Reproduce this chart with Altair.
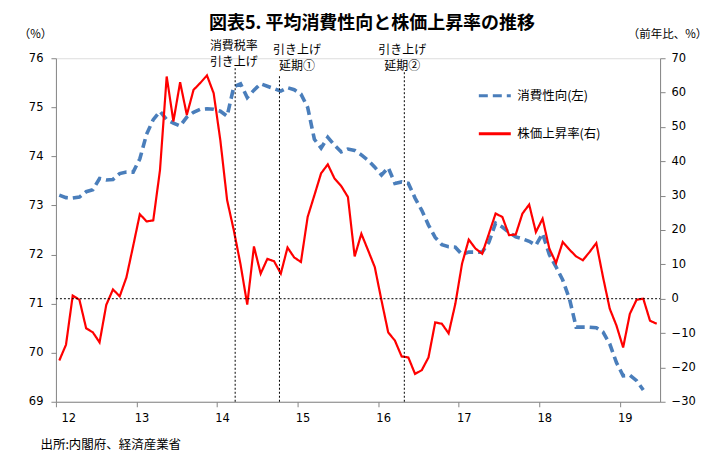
import json
import altair as alt
import numpy as np
import pandas as pd

# ---- data ----
year_labels = ["12", "13", "14", "15", "16", "17", "18", "19"]  # Jan of each year
series_names = ["消費性向(左)", "株価上昇率(右)"]

# average propensity to consume (%), monthly from 2012-01 (left axis)
propensity = [
    73.21, 73.16, 73.15, 73.17, 73.28, 73.32, 73.55, 73.52, 73.53, 73.65, 73.68, 73.68,
    73.95, 74.45, 74.75, 74.92, 74.75, 74.68, 74.62, 74.80, 74.90, 74.96, 74.97, 74.96,
    74.92, 74.82, 75.42, 75.48, 75.20, 75.35, 75.48, 75.43, 75.38, 75.33, 75.40, 75.36,
    75.27, 75.00, 74.35, 74.17, 74.39, 74.23, 74.09, 74.15, 74.12, 74.03, 73.92, 73.78,
    73.62, 73.77, 73.45, 73.48, 73.45, 73.15, 72.90, 72.60, 72.35, 72.20, 72.16, 72.15,
    72.00, 72.05, 72.05, 72.05, 72.25, 72.64, 72.56, 72.45, 72.36, 72.32, 72.27, 72.19,
    72.43, 72.00, 71.75, 71.48, 71.10, 70.52, 70.52, 70.52, 70.51, 70.42, 70.18, 69.80,
    69.53, 69.54, 69.43, 69.24,
]

# stock price change (% y/y), monthly from 2012-01 (right axis)
stock = [
    -18.0, -13.4, 0.9, -0.3, -8.6, -9.8, -12.7, -1.8, 2.7, 0.7, 6.2, 15.3,
    24.6, 22.5, 22.8, 37.4, 64.7, 51.6, 63.0, 53.5, 60.8, 62.8, 65.0, 59.8,
    46.0, 28.7, 19.9, 10.0, -1.7, 15.2, 7.3, 11.6, 10.9, 7.3, 14.9, 12.0,
    10.7, 23.8, 30.1, 36.5, 39.1, 35.0, 32.8, 29.6, 12.3, 18.9, 14.1, 9.2,
    -0.5, -9.8, -12.2, -16.8, -17.1, -21.9, -20.8, -17.1, -6.9, -7.3, -10.1, -1.5,
    10.2, 17.2, 14.6, 13.1, 18.9, 24.8, 23.8, 18.5, 18.7, 24.8, 27.4, 19.4,
    23.3, 14.6, 10.4, 16.5, 14.3, 12.3, 11.2, 13.6, 16.2, 6.3, -2.9, -7.8,
    -14.2, -4.4, -0.3, 0.0, -6.4, -7.3,
]

# events (month index from 2012-01) and top of their dotted lines (left-axis units)
event_pos = [26.7, 33.3, 51.9]
event_top = [75.82, 75.65, 75.72]

# annotation texts
ann_text = ["消費税率", "引き上げ", "引き上げ", "延期①", "引き上げ", "延期②"]
ann_x = [26.5, 26.5, 35.9, 35.9, 51.6, 51.6]
ann_y = [76.245, 75.92, 76.16, 75.84, 76.16, 75.84]

n_months = 90

# ---- tables ----
df_b = pd.DataFrame({"m": np.arange(len(propensity)) + 0.5, "v": propensity,
                     "series": series_names[0]})
df_r = pd.DataFrame({"m": np.arange(len(stock)) + 0.5, "v": stock,
                     "series": series_names[1]})
df_ev = pd.DataFrame({"m": event_pos, "y0": [69] * len(event_pos), "y1": event_top})
df_ann = pd.DataFrame({"m": ann_x, "y": ann_y, "t": ann_text})

FONT_JP = "Noto Sans CJK JP"
FONT_NUM = "DejaVu Sans"
AXIS_GREY = "#868686"

x_enc = alt.X(
    "m:Q",
    scale=alt.Scale(domain=[0, n_months], nice=False, zero=False),
    axis=alt.Axis(
        values=[12 * i for i in range(len(year_labels))],
        labelExpr=f"{json.dumps(year_labels)}[round(datum.value/12)]",
        grid=False, domainColor=AXIS_GREY, tickColor=AXIS_GREY, tickSize=5,
        labelFont=FONT_NUM, labelFontSize=11.5, labelColor="#000000",
        labelOffset=5, labelPadding=6,
        title="出所:内閣府、経済産業省", titleFont=FONT_JP, titleFontSize=12.5,
        titleFontWeight="normal", titleColor="#000000",
        titleAnchor="start", titleAlign="left", titleBaseline="middle",
        titleX=-16, titleY=43,
    ),
)
x_plain = alt.X("m:Q", scale=alt.Scale(domain=[0, n_months], nice=False, zero=False))

left_domain = [69, 76]
right_domain = [-30, 70]

color_scale = alt.Scale(domain=series_names, range=["#4A7EBB", "#FF0000"])
dash_scale = alt.Scale(domain=series_names, range=[[9, 5], [1, 0]])

legend_cfg = dict(
    orient="none", legendX=422, legendY=20, title=None,
    symbolType="stroke", symbolSize=1024, symbolStrokeWidth=3,
    labelFont=FONT_JP, labelFontSize=12.5, labelColor="#000000",
    labelOffset=5, rowPadding=14, padding=0, direction="vertical",
)

blue = alt.Chart(df_b).mark_line(strokeWidth=3.6).encode(
    x=x_enc,
    y=alt.Y(
        "v:Q", scale=alt.Scale(domain=left_domain, nice=False, zero=False),
        axis=alt.Axis(
            orient="left", values=list(range(69, 77)), grid=False,
            domainColor=AXIS_GREY, tickColor=AXIS_GREY, tickSize=5,
            labelFont=FONT_NUM, labelFontSize=11.5, labelColor="#000000",
            labelPadding=8,
            title="（%）", titleAngle=0, titleFont=FONT_JP, titleFontSize=11.5,
            titleFontWeight="normal", titleColor="#000000",
            titleAlign="center", titleBaseline="middle", titleX=-21, titleY=-24,
        ),
    ),
    color=alt.Color("series:N", scale=color_scale, legend=alt.Legend(**legend_cfg)),
    strokeDash=alt.StrokeDash("series:N", scale=dash_scale, legend=alt.Legend(**legend_cfg)),
)

red = alt.Chart(df_r).mark_line(strokeWidth=2.2).encode(
    x=x_plain,
    y=alt.Y(
        "v:Q", scale=alt.Scale(domain=right_domain, nice=False, zero=False),
        axis=alt.Axis(
            orient="right", values=list(range(-30, 71, 10)), grid=False,
            domainColor=AXIS_GREY, tickColor=AXIS_GREY, tickSize=5,
            labelFont=FONT_NUM, labelFontSize=11.5, labelColor="#000000",
            labelPadding=6,
            title="（前年比、%）", titleAngle=0, titleFont=FONT_JP, titleFontSize=11.5,
            titleFontWeight="normal", titleColor="#000000",
            titleAlign="center", titleBaseline="middle", titleX=7, titleY=-24,
        ),
    ),
    color=alt.Color("series:N", scale=color_scale, legend=alt.Legend(**legend_cfg)),
    strokeDash=alt.StrokeDash("series:N", scale=dash_scale, legend=alt.Legend(**legend_cfg)),
)

events = alt.Chart(df_ev).mark_rule(color="#000000", strokeWidth=1, strokeDash=[2, 2]).encode(
    x=x_plain,
    y=alt.Y("y0:Q", scale=alt.Scale(domain=left_domain, nice=False, zero=False), axis=None),
    y2="y1:Q",
)

ann = alt.Chart(df_ann).mark_text(
    font=FONT_JP, fontSize=12, color="#000000", align="center", baseline="middle"
).encode(
    x=x_plain,
    y=alt.Y("y:Q", scale=alt.Scale(domain=left_domain, nice=False, zero=False), axis=None),
    text="t:N",
)

zero = alt.Chart(pd.DataFrame({"z": [0]})).mark_rule(
    color="#000000", strokeWidth=1, strokeDash=[2, 2]
).encode(
    x=alt.value(0), x2=alt.value(605),
    y=alt.Y("z:Q", scale=alt.Scale(domain=right_domain, nice=False, zero=False), axis=None),
)

chart = alt.layer(blue, red, events, ann, zero).resolve_scale(y="independent").properties(
    width=605, height=344,
    autosize=alt.AutoSizeParams(type="none"),
    padding={"left": 48, "top": 50, "right": 50, "bottom": 56},
    title=alt.TitleParams(
        "図表5. 平均消費性向と株価上昇率の推移", font=FONT_JP, fontSize=18,
        fontWeight="bold", color="#000000", anchor="middle", frame="group",
        dx=14, offset=-5,
    ),
).configure_view(stroke=None).configure(background="#ffffff")

chart.save("out.html", embed_options={"renderer": "svg", "actions": False})
